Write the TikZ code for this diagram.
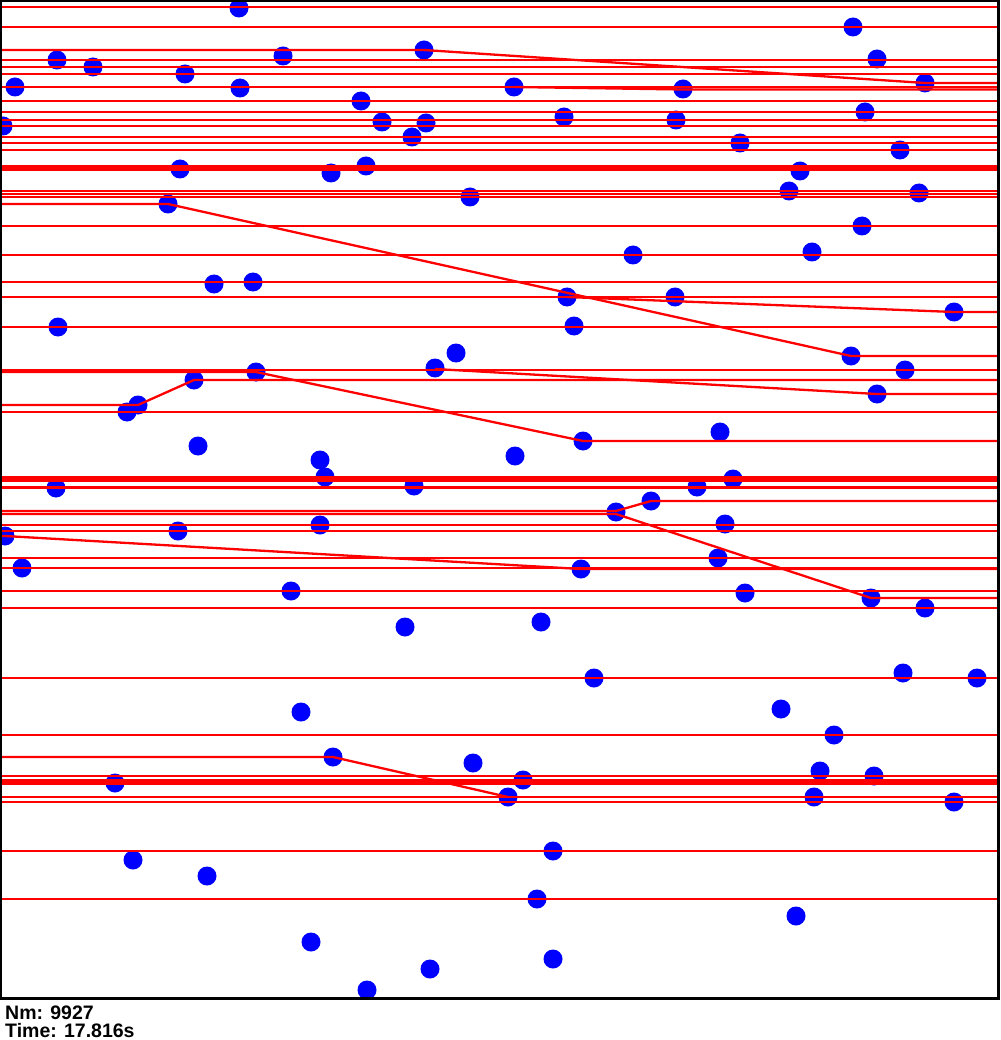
\documentclass[tikz,border=0pt]{standalone}
\usepackage{fontspec}
\setmainfont{Liberation Sans}
\usetikzlibrary{positioning}
\definecolor{DotBlue}{HTML}{0000FF}
\definecolor{RouteRed}{HTML}{FF0000}

\begin{document}
\begin{tikzpicture}[x=1pt, y=-1pt,
          dot/.style={fill=DotBlue},
          route/.style={draw=RouteRed, line width=2.3pt, line join=round},
          frame/.style={draw=black, line width=2.6pt},
          stat/.style={font=\bfseries\fontsize{19.5}{20}\selectfont, anchor=base west, inner sep=0pt}
        ]
          \useasboundingbox (0,0) rectangle (1000,1040);
          % cities
          \foreach \x/\y in {239/8, 57/60, 93/67, 185/74, 283/56, 15/87, 240/88, 3/126, 180/169,
              331/173, 168/204, 424/50, 514/87, 361/101, 382/122, 426/123, 412/137, 564/117,
              366/166, 470/197, 633/255, 853/27, 877/59, 925/83, 683/89, 865/112, 676/120,
              740/143, 900/150, 800/171, 789/191, 919/193, 862/226, 812/252, 214/284, 253/282,
              58/327, 194/380, 256/372, 138/405, 127/412, 198/446, 320/460, 325/477, 56/488,
              567/297, 675/297, 574/326, 456/353, 435/368, 583/441, 515/456, 414/486, 616/512,
              651/501, 954/312, 851/356, 905/370, 877/394, 720/432, 697/487, 733/479, 5/536,
              178/531, 320/525, 22/568, 291/591, 301/712, 333/757, 581/569, 405/627, 541/622,
              594/678, 473/763, 725/524, 718/558, 745/593, 871/598, 925/608, 903/673, 977/678,
              781/709, 834/735, 115/783, 133/860, 207/876, 311/942, 367/990, 430/969, 523/780,
              508/797, 820/771, 874/776, 814/797, 954/802, 553/851, 537/899, 796/916, 553/959}
            \fill[dot] (\x,\y) circle[radius=9.5pt];
          % straight routes
          \foreach \y in {7, 27, 60, 67, 74, 87, 101, 112, 120, 126, 137, 143, 150, 166.5, 169.5,
              191, 194, 197, 226, 255, 282, 297, 327, 370, 412, 477.5, 480.5, 487.5, 525, 531,
              558, 568, 591, 608, 678, 735, 776, 780.5, 783.5, 797, 802, 851, 899}
            \draw[route] (2,\y) -- (997,\y);
          % bent routes
          \draw[route] (2,50) -- (424,50) -- (925,83) -- (997,83);
          \draw[route] (514,87) -- (683,89.5) -- (997,89.5);
          \draw[route] (2,204) -- (168,204) -- (851,356) -- (997,356);
          \draw[route] (567,297) -- (954,312) -- (997,312);
          \draw[route] (435,369) -- (877,394) -- (997,394);
          \draw[route] (2,372) -- (256,372) -- (583,441) -- (997,441);
          \draw[route] (2,405) -- (138,405) -- (194,380) -- (997,380);
          \draw[route] (2,511) -- (616,511) -- (651,501) -- (997,501);
          \draw[route] (2,514) -- (616,514) -- (871,598) -- (997,598);
          \draw[route] (2,536) -- (5,536) -- (581,569) -- (997,569);
          \draw[route] (2,757) -- (333,757) -- (508,797);
          \draw[frame] (1,1) rectangle (998.5,998.3);
          \node[stat] (nm) at (5,1019) {Nm: 9927};
          \node[stat] (time) at (5,1037.5) {Time: 17.816s};
        \end{tikzpicture}
\end{document}
